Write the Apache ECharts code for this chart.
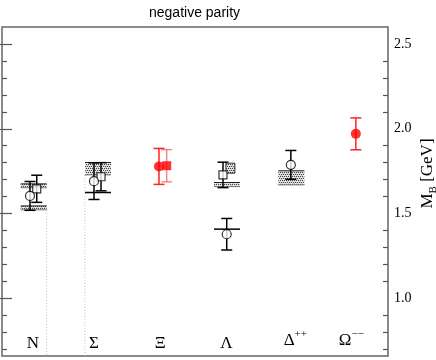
<!DOCTYPE html>
<html>
<head>
<meta charset="utf-8">
<script src="https://cdn.jsdelivr.net/npm/echarts@6/dist/echarts.min.js"></script>
<style>html,body{margin:0;padding:0;background:#fff}#chart{width:436px;height:360px}</style>
</head>
<body>
<div id="chart"></div>
<script>
var chart = echarts.init(document.getElementById('chart'));

// baryon labels along the bottom, and where they sit on the x scale (0..6)
var labelText = ['N', 'Σ', 'Ξ', 'Λ', 'Δ++', 'Ω−−'];
var labelPos = [0.48, 1.43, 2.46, 3.49, 4.56, 5.43];

// y scale [GeV]
var yMin = 0.66, yMax = 2.6;
var majorTicks = [1.0, 1.5, 2.0, 2.5];
var minorTicks = [0.7, 0.8, 0.9, 1.1, 1.2, 1.3, 1.4, 1.6, 1.7, 1.8, 1.9, 2.1, 2.2, 2.3, 2.4];

// lattice results: [x, mass, error]
var openCircles = [[0.435, 1.604, 0.085], [1.43, 1.691, 0.108], [3.493, 1.378, 0.093], [4.49, 1.787, 0.085]];
var openSquares = [[0.54, 1.646, 0.080], [1.539, 1.717, 0.083], [3.435, 1.728, 0.075]];
var redCircles = [[2.44, 1.778, 0.106], [5.50, 1.970, 0.094]];
var redSquares = [[2.56, 1.782, 0.095]];

// experimental bands: [x0, x1, low, high]
var bands = [
  [0.29, 0.695, 1.522, 1.545],
  [0.29, 0.695, 1.652, 1.675],
  [1.29, 1.694, 1.728, 1.801],
  [3.295, 3.70, 1.659, 1.683],
  [4.295, 4.70, 1.669, 1.752]
];
var smallBoxes = [[3.48, 3.62, 1.738, 1.797]];
// single experimental lines: [x0, x1, mass]
var expLines = [[1.29, 1.694, 1.624], [3.295, 3.70, 1.408]];
// faint dotted guides: [x, top]
var dotLines = [[0.695, 1.522], [1.29, 1.728]];

// hatch pattern
var cv = document.createElement('canvas');
cv.width = 4; cv.height = 4;
var cx = cv.getContext('2d');
cx.fillStyle = '#d4d4d4'; cx.fillRect(0, 0, 4, 4);
cx.fillStyle = '#444';
cx.fillRect(0, 0, 1, 1); cx.fillRect(2, 0, 1, 1); cx.fillRect(1, 2, 1, 1); cx.fillRect(3, 2, 1, 1);
cx.fillStyle = '#fff';
cx.fillRect(1, 1, 1, 1); cx.fillRect(3, 3, 1, 1);
var hatch = {image: cv, repeat: 'repeat'};

function bandItem(bordered) {
  return function (params, api) {
    var a = api.coord([api.value(0), api.value(3)]);
    var b = api.coord([api.value(1), api.value(2)]);
    var kids = [{
      type: 'rect',
      shape: {x: a[0], y: a[1], width: b[0] - a[0], height: b[1] - a[1]},
      style: {fill: hatch, stroke: bordered ? '#333' : null, lineWidth: 1}
    }];
    if (!bordered) {
      kids.push({type: 'line', shape: {x1: a[0], y1: a[1], x2: b[0], y2: a[1]}, style: {stroke: '#222', lineWidth: 1}});
      kids.push({type: 'line', shape: {x1: a[0], y1: b[1], x2: b[0], y2: b[1]}, style: {stroke: '#777', lineWidth: 1}});
    }
    return {type: 'group', children: kids};
  };
}

function errItem(color, width) {
  return function (params, api) {
    var x = api.value(0), y = api.value(1), e = api.value(2);
    var t = api.coord([x, y + e]), b = api.coord([x, y - e]);
    var hw = 5.5;
    var st = {stroke: color, lineWidth: width};
    return {type: 'group', children: [
      {type: 'line', shape: {x1: t[0], y1: t[1], x2: b[0], y2: b[1]}, style: st},
      {type: 'line', shape: {x1: t[0] - hw, y1: t[1], x2: t[0] + hw, y2: t[1]}, style: st},
      {type: 'line', shape: {x1: b[0] - hw, y1: b[1], x2: b[0] + hw, y2: b[1]}, style: st}
    ]};
  };
}

var serif = '"Liberation Serif", "DejaVu Serif", serif';

function yAx(pos, ticks, len, labels) {
  return {
    type: 'value', position: pos, min: yMin, max: yMax,
    axisLine: {show: false},
    splitLine: {show: false},
    axisTick: {show: true, inside: true, length: len, customValues: ticks, lineStyle: {color: '#555', width: 1.2}},
    axisLabel: labels ? {show: true, customValues: majorTicks, formatter: function (v) { return v.toFixed(1); },
      margin: 6, color: '#000', fontSize: 14, fontFamily: serif} : {show: false}
  };
}

var yAxes = [
  yAx('right', majorTicks, 10, true),
  yAx('right', minorTicks, 5, false),
  yAx('left', majorTicks, 10, false),
  yAx('left', minorTicks, 5, false)
];
yAxes[0].name = 'M{s|B} [GeV]';
yAxes[0].nameLocation = 'middle';
yAxes[0].nameRotate = 90;
yAxes[0].nameGap = 28;
yAxes[0].nameMoveOverlap = false;
yAxes[0].nameTextStyle = {color: '#000', fontSize: 17, fontFamily: serif, padding: [0, 0, 0, 36],
  rich: {s: {fontSize: 11, fontFamily: serif, padding: [12, 0, 0, 0]}}};

var option = {
  animation: false,
  title: {
    text: 'negative parity', left: 144, top: 1,
    textStyle: {fontSize: 14, fontWeight: 'normal', color: '#000', fontFamily: '"Liberation Sans", Arial, sans-serif'}
  },
  grid: {left: 2, right: 48, top: 27, bottom: 4, show: true, borderColor: '#666', borderWidth: 1.5,
    outerBoundsMode: 'none', containLabel: false},
  xAxis: {
    type: 'value', min: 0, max: 6,
    axisLine: {show: false}, axisTick: {show: false}, splitLine: {show: false},
    axisLabel: {
      inside: true, margin: 4, customValues: labelPos,
      formatter: function (v) {
        var best = 0;
        for (var i = 1; i < labelPos.length; i++) {
          if (Math.abs(labelPos[i] - v) < Math.abs(labelPos[best] - v)) best = i;
        }
        var t = labelText[best];
        if (t.length > 1) return '{b|' + t.charAt(0) + '}{s|' + t.slice(1) + '}';
        return '{b|' + t + '}';
      },
      rich: {
        b: {fontSize: 17, fontFamily: serif, color: '#000'},
        s: {fontSize: 11, fontFamily: serif, color: '#000', padding: [0, 0, 12, 0]}
      }
    }
  },
  yAxis: yAxes,
  series: [
    {type: 'custom', data: dotLines, renderItem: function (params, api) {
      var t = api.coord([api.value(0), api.value(1)]);
      var b = api.coord([api.value(0), yMin]);
      return {type: 'line', shape: {x1: t[0], y1: t[1], x2: b[0], y2: b[1]},
        style: {stroke: '#bbb', lineWidth: 1, lineDash: [1, 2]}};
    }},
    {type: 'custom', data: bands, renderItem: bandItem(false)},
    {type: 'custom', data: expLines, renderItem: function (params, api) {
      var a = api.coord([api.value(0), api.value(2)]);
      var b = api.coord([api.value(1), api.value(2)]);
      return {type: 'line', shape: {x1: a[0], y1: a[1], x2: b[0], y2: b[1]}, style: {stroke: '#000', lineWidth: 1.5}};
    }},
    {type: 'custom', data: openCircles, renderItem: errItem('#000', 1.5)},
    {type: 'custom', data: openSquares, renderItem: errItem('#000', 1.5)},
    {type: 'custom', data: redSquares, renderItem: errItem('rgba(240,60,60,0.6)', 1.5)},
    {type: 'custom', data: redCircles, renderItem: errItem('#f22', 1.5)},
    {type: 'custom', data: smallBoxes, renderItem: bandItem(true)},
    {type: 'scatter', data: openSquares, symbol: 'rect', symbolSize: 8,
      itemStyle: {color: '#fff', borderColor: '#000', borderWidth: 1.2}},
    {type: 'scatter', data: openCircles, symbol: 'circle', symbolSize: 9,
      itemStyle: {color: '#fff', borderColor: '#000', borderWidth: 1.2}},
    {type: 'scatter', data: redSquares, symbol: 'rect', symbolSize: 9, itemStyle: {color: '#f00'}},
    {type: 'scatter', data: redCircles, symbol: 'circle', symbolSize: 10, itemStyle: {color: '#f00'}}
  ]
};

chart.setOption(option);
</script>
</body>
</html>
